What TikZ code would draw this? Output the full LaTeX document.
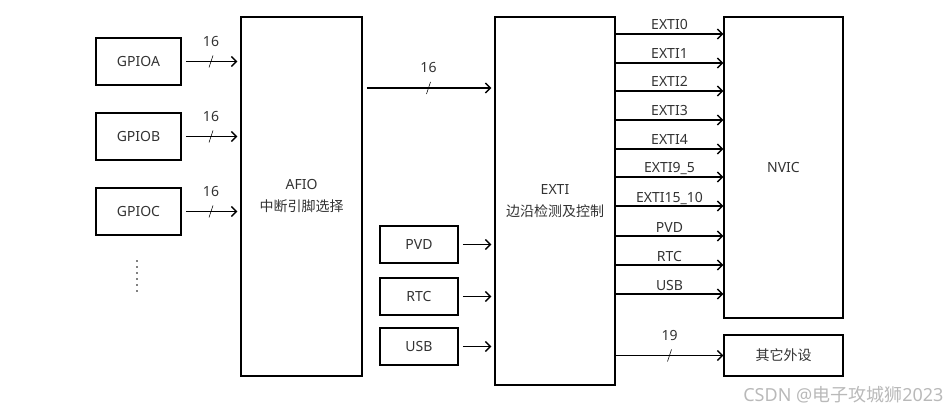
\documentclass[tikz,border=0pt]{standalone}
\usepackage{fontspec}
\setmainfont{Noto Sans}
\newfontfamily\cjk{Noto Sans CJK SC}
\usetikzlibrary{arrows.meta}

\newcommand{\busmark}[2]{
  \draw[line width=0.6pt] ([shift={(-2,6)}]#1) -- ([shift={(2,-6)}]#1);
  \node[font=\fontsize{14}{14}\selectfont,text=black!80] at ([yshift=20pt]#1) {#2};
}

\begin{document}
\begin{tikzpicture}[x=1pt,y=-1pt,>={Straight Barb[length=5pt,width=10pt]}]

%
% Styles
%
\tikzstyle{block} = [rectangle,draw,line width=1.5pt,inner sep=0pt,text=black!80,font=\fontsize{14}{22}\selectfont,align=center]
\tikzstyle{link} = [->,line width=1.4pt]
\tikzstyle{gap} = [shorten <=4pt,shorten >=3pt]

\useasboundingbox (0,0) rectangle (952,414);

\node[block,minimum width=85,minimum height=47] (gpioa) at (138.5, 61.5) {GPIOA};
\node[block,minimum width=85,minimum height=47] (gpiob) at (138.5,136.5) {GPIOB};
\node[block,minimum width=85,minimum height=47] (gpioc) at (138.5,211.5) {GPIOC};

\node[block,minimum width=121,minimum height=359] (afio) at (301.5,196.5) {AFIO\\{\cjk 中断引脚选择}};
\node[block,minimum width=120,minimum height=368] (exti) at (555,201) {EXTI\\{\cjk 边沿检测及控制}};

\node[block,minimum width=78,minimum height=37] (pvd) at (419,244.5) {PVD};
\node[block,minimum width=78,minimum height=37] (rtc) at (419,296.5) {RTC};
\node[block,minimum width=78,minimum height=37] (usb) at (419,346.5) {USB};

\node[block,minimum width=119,minimum height=301] (nvic) at (783.5,167.5) {NVIC};
\node[block,minimum width=119,minimum height=41] (other) at (783.5,355.5) {{\cjk 其它外设}};

\foreach \src in {gpioa,gpiob,gpioc} {
  \draw[link,gap] (\src.east) -- (\src -| afio.west) coordinate[midway] (m\src);
  \busmark{m\src}{16}
}

\foreach \i in {0,...,5}
  \fill (137,261+6*\i) circle (0.9pt);

\draw[link,gap] (afio.east |- 0,88) -- (exti.west |- 0,88) coordinate[midway] (mafio);
\busmark{mafio}{16}

\foreach \src in {pvd,rtc,usb}
  \draw[link,gap] (\src.east) -- (\src -| exti.west);

\foreach \name/\y in {EXTI0/34,EXTI1/63,EXTI2/91,EXTI3/120,EXTI4/149,EXTI9\_5/177,EXTI15\_10/206,PVD/236,RTC/265,USB/294}
  \draw[link] (exti.east |- 0,\y) -- (nvic.west |- 0,\y)
    node[midway,anchor=base,yshift=4pt,text=black!80,font=\fontsize{14}{14}\selectfont] {\name};

\draw[link] (exti.east |- other) -- (other.west) coordinate[midway] (mexti);
\busmark{mexti}{19}

\node[anchor=east,text=gray!55,font=\fontsize{18}{18}\selectfont] (mark) at (947,395) {CSDN @{\cjk 电子攻城狮}2023};

\end{tikzpicture}
\end{document}
